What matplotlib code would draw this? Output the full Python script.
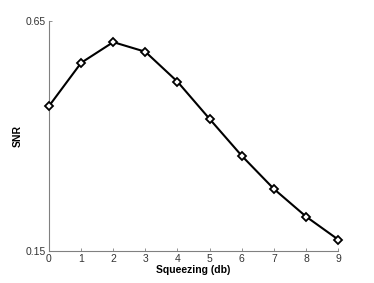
import matplotlib
matplotlib.use("Agg")
import matplotlib.pyplot as plt

# Data
squeezing = [0, 1, 2, 3, 4, 5, 6, 7, 8, 9]
snr = [0.465, 0.559, 0.604, 0.583, 0.518, 0.437, 0.357, 0.285, 0.225, 0.175]

plt.rcParams['font.family'] = ['Liberation Sans', 'DejaVu Sans']

fig = plt.figure(figsize=(3.74, 2.83), dpi=100)
ax = fig.add_axes([0.131, 0.113, 0.773, 0.813])

ax.plot(squeezing, snr, color='black', linewidth=1.5, marker='D', markersize=4.5,
        markerfacecolor='white', markeredgecolor='black', markeredgewidth=1.3,
        clip_on=False, zorder=3)

ax.set_xlim(0, 9)
ax.set_ylim(0.15, 0.65)
ax.set_xticks(squeezing)
ax.set_yticks([0.15, 0.65])
ax.set_yticklabels(['0.15', '0.65'])

for side in ['top', 'right']:
    ax.spines[side].set_visible(False)
for side in ['left', 'bottom']:
    ax.spines[side].set_color('#808080')
    ax.spines[side].set_linewidth(0.8)

ax.tick_params(direction='in', length=2.5, width=0.6, color='#808080',
               labelsize=7.5, labelcolor='#333333', pad=2)

ax.set_xlabel('Squeezing (db)', fontsize=7.5, fontweight='bold', labelpad=1)
ax.set_ylabel('SNR', fontsize=7.5, fontweight='bold', labelpad=2)

fig.savefig('out.png', dpi=100)
